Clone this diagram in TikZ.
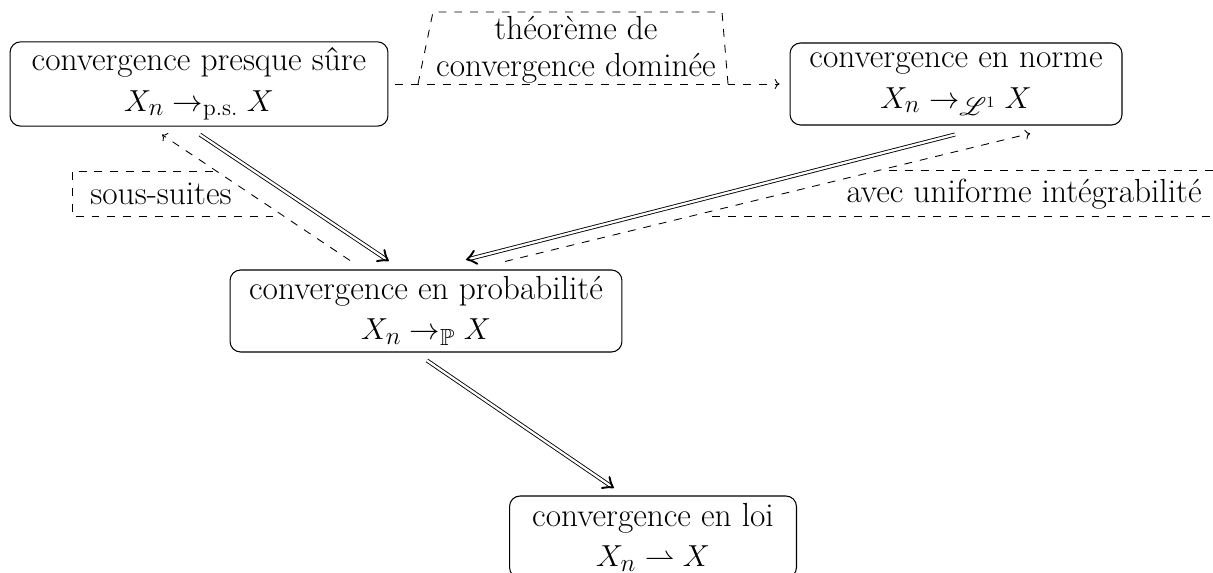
\documentclass[tikz,border=0pt]{standalone}
\usepackage{amsmath}
\IfFileExists{amssymb.sty}{\usepackage{amssymb}}{}
\IfFileExists{mathrsfs.sty}{\usepackage{mathrsfs}}{\let\mathscr\mathcal}
\usetikzlibrary{arrows.meta}
\usetikzlibrary{positioning,calc,decorations.markings}

\begin{document}
\begin{tikzpicture}[
  x=0.02cm, y=-0.02cm,
  conv/.style={draw, rounded corners=6pt, align=center, minimum height=1.64cm,
    font=\fontsize{19}{23}\selectfont, line width=0.6pt},
  lbl/.style={align=center, inner sep=0pt, font=\fontsize{19}{21}\selectfont},
  hint/.style={dash pattern=on 4.5pt off 4.5pt, line width=0.5pt},
  imp/.style={
    postaction={draw, double, double distance=1.3pt, line width=0.5pt,
      shorten >=1.2pt},
    decoration={markings, mark=at position 1 with {
      \draw[line width=1.1pt, line cap=round, line join=round]
        (-5pt,3.8pt) .. controls (-2pt,1pt) .. (0,0)
        .. controls (-2pt,-1pt) .. (-5pt,-3.8pt);}},
    postaction={decorate}},
]
\useasboundingbox (0,0) rectangle (1213,573);
\node[conv, minimum width=7.56cm] (ps) at (199,84)
  {convergence presque sûre\\ $X_n \rightarrow_{\text{p.s.}} X$};
\node[conv, minimum width=6.64cm] (norme) at (956,84)
  {convergence en norme\\ $X_n \rightarrow_{\mathscr{L}^1} X$};
\node[conv, minimum width=7.84cm] (proba) at (426,311)
  {convergence en probabilité\\ $X_n \rightarrow_{\mathbb{P}} X$};
\node[conv, minimum width=5.74cm] (loi) at (653,537)
  {convergence en loi\\ $X_n \rightharpoonup X$};
% labels
\node[lbl] (theo) at (576,50) {théorème de\\convergence dominée};
\node[lbl] (sous) at (161,194) {sous-suites};
\node[lbl] (avec) at (1024,194) {avec uniforme intégrabilité};
\draw[hint] ($(theo)+(-158,34)$) -- ($(theo)+(-143,-38)$)
  -- ($(theo)+(146,-38)$) -- ($(theo)+(152,34)$);
\draw[hint] ($(sous)+(52,-23)$) -- ($(sous)+(-89,-23)$)
  -- ($(sous)+(-89,22)$) -- ($(sous)+(116,22)$);
\draw[hint] ($(avec)+(-135,-24)$) -- ($(avec)+(189,-24)$);
\draw[hint] ($(avec)+(-312,22)$) -- ($(avec)+(189,22)$);
% implications
\path[imp] ($(ps.south)+(1,8)$) -- ($(proba.north)+(-38,-9)$);
\path[imp] ($(norme.south)+(-1,9)$) -- ($(proba.north)+(41,-10)$);
\path[imp] ($(proba.south)+(1,8)$) -- ($(loi.north)+(-40,-8)$);
% under conditions
\draw[hint, ->] ($(ps.east)+(7,0)$) -- ($(norme.west)+(-10,0)$);
\draw[hint, ->] ($(proba.north)+(-76,-9)$) -- ($(ps.south)+(-37,8)$);
\draw[hint, ->] ($(proba.north)+(79,-8)$) -- ($(norme.south)+(74,8)$);
\end{tikzpicture}
\end{document}
